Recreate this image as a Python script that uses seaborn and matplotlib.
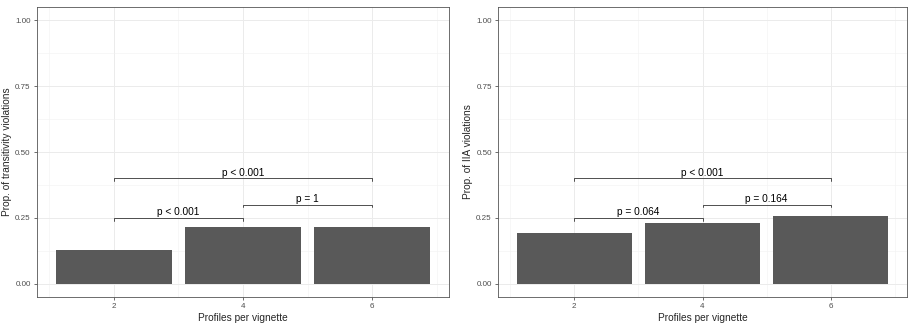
import matplotlib
matplotlib.use("Agg")
import matplotlib.pyplot as plt
import seaborn as sns
import pandas as pd
import numpy as np

profiles = [2, 4, 6]
transitivity = [0.128, 0.215, 0.215]
iia = [0.194, 0.230, 0.259]

pairs = [(2, 4), (4, 6), (2, 6)]
bracket_y = [0.25, 0.30, 0.40]
p_trans = ["p < 0.001", "p = 1", "p < 0.001"]
p_iia = ["p = 0.064", "p = 0.164", "p < 0.001"]

sns.set_style("white")
plt.rcParams['font.family'] = ['Liberation Sans', 'DejaVu Sans']

fig = plt.figure(figsize=(9.15, 3.27), dpi=100)
ax1 = fig.add_axes([0.0404, 0.0917, 0.4503, 0.8869])
ax2 = fig.add_axes([0.5443, 0.0917, 0.4470, 0.8869])


def panel(ax, vals, labels, ylab):
    df = pd.DataFrame({'profiles': profiles, 'prop': vals})
    sns.barplot(data=df, x='profiles', y='prop', native_scale=True, width=0.9,
                color='#595959', saturation=1, edgecolor='none', ax=ax, zorder=2)
    for (a, b), h, lab in zip(pairs, bracket_y, labels):
        ax.plot([a, a, b, b], [h - 0.01, h, h, h - 0.01], color='#333333', lw=0.6, zorder=3)
        ax.text((a + b) / 2, h + 0.003, lab, ha='center', va='bottom', fontsize=7.3, color='black')
    ax.set_xlim(0.81, 7.19)
    ax.set_ylim(-0.05, 1.05)
    ax.set_xticks(profiles)
    ax.set_xticks([1, 3, 5, 7], minor=True)
    ax.set_yticks([0, 0.25, 0.5, 0.75, 1.0])
    ax.set_yticklabels(['0.00', '0.25', '0.50', '0.75', '1.00'])
    ax.set_yticks([0.125, 0.375, 0.625, 0.875], minor=True)
    ax.grid(which='major', color='#EBEBEB', lw=0.7, zorder=0)
    ax.grid(which='minor', color='#F2F2F2', lw=0.4, zorder=0)
    ax.set_axisbelow(True)
    ax.tick_params(which='major', length=2.5, width=0.5, color='#333333',
                   labelsize=5.8, labelcolor='#4D4D4D', pad=2)
    ax.tick_params(which='minor', length=0)
    ax.tick_params(axis='x', bottom=True)
    ax.tick_params(axis='y', left=True)
    for s in ax.spines.values():
        s.set_color('#555555')
        s.set_linewidth(0.6)
    ax.set_xlabel('Profiles per vignette', fontsize=7.3, labelpad=2)
    ax.set_ylabel(ylab, fontsize=7.3, labelpad=2)


panel(ax1, transitivity, p_trans, 'Prop. of transitivity violations')
panel(ax2, iia, p_iia, 'Prop. of IIA violations')

fig.savefig('out.png', dpi=100)
